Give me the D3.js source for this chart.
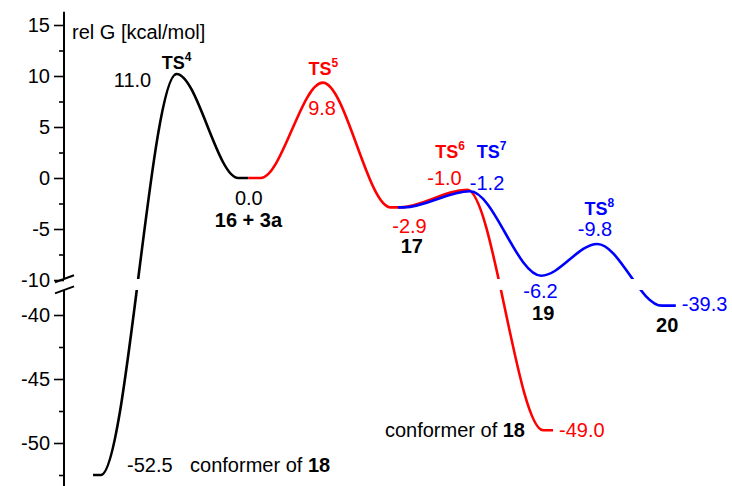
<!DOCTYPE html>
<html>
<head>
<meta charset="utf-8">
<script src="https://cdn.jsdelivr.net/npm/d3@7"></script>
<style>
  html, body { margin: 0; padding: 0; background: #fff; }
  svg { display: block; font-family: "Liberation Sans", Arial, Helvetica, sans-serif; }
</style>
</head>
<body>
<svg id="chart" width="732" height="486"></svg>
<script>
// ---- data (reaction coordinate, plotted relative G in kcal/mol) ----
const blackX = [4.4, 5.6, 17.05, 26.4, 27.9];
const blackG = [-52.5, -52.5, 10.2, 0, 0];
const redX = [27.9, 29.8, 39.2, 49.5, 50.9, 61.1, 72.6, 74.1];
const redG = [0, 0, 9.35, -2.88, -2.88, -1.15, -49.0, -49.0];
const blueX = [50.6, 51.5, 61.5, 72.3, 80.8, 90.6, 92.7];
const blueG = [-2.88, -2.88, -1.3, -9.58, -6.47, -39.27, -39.27];

const upperMajor = [-10, -5, 0, 5, 10, 15];
const upperMinor = [-7.5, -2.5, 2.5, 7.5, 12.5];
const lowerMajor = [-50, -45, -40];
const lowerMinor = [-52.5, -47.5, -42.5];

// annotation texts
const numLabels = [
  ["11.0", 10.38, 8.92, "black"],
  ["9.8", 39.1, 6.18, "red"],
  ["0.0", 28.0, -2.65, "black"],
  ["-2.9", 52.35, -5.39, "red"],
  ["-1.0", 57.65, -0.69, "red"],
  ["-1.2", 64.1, -1.18, "blue"],
  ["-6.2", 72.2, -38.67, "blue"],
  ["-9.8", 80.45, -5.66, "blue"]
];
const tsLabels = [
  ["4", 17.05, 10.69, "black"],
  ["5", 39.3, 10.1, "red"],
  ["6", 58.5, 1.96, "red"],
  ["7", 64.8, 1.96, "blue"],
  ["8", 81.1, -3.63, "blue"]
];
const speciesLabels = [
  ["16 + 3a", 27.95, -4.77],
  ["17", 52.7, -7.4],
  ["19", 72.6, -40.39],
  ["20", 91.4, -41.3]
];

const svg = d3.select("#chart");
const colors = { black: "#000000", red: "#ff0000", blue: "#0000ff" };

const x = d3.scaleLinear().domain([0, 100]).range([64, 724]);
// broken axis: lower part -60..-38, gap, upper part -10..20
const y = d3.scaleLinear()
  .domain([-60, -38, -10, 20])
  .range([315 + 20 * 12.8, 315 - 2 * 12.8, 280, 280 - 30 * 10.2]);

// ---- axis ----
const axisG = svg.append("g").attr("transform", "translate(64,0)");
function drawTicks(vals, size, labels) {
  const a = d3.axisLeft(y).tickValues(vals).tickSize(size).tickPadding(4)
    .tickFormat(labels ? (d => String(d)) : "");
  const g = axisG.append("g").call(a);
  g.select(".domain").remove();
  g.selectAll(".tick line").attr("stroke", "#000").attr("stroke-width", 1.6);
  g.selectAll(".tick text").attr("font-size", 20).attr("fill", "#000")
    .attr("font-family", '"Liberation Sans", Arial, sans-serif');
}
drawTicks(upperMajor, 10, true);
drawTicks(upperMinor, 5, false);
drawTicks(lowerMajor, 10, true);
drawTicks(lowerMinor, 5, false);

axisG.append("line").attr("x1", 0).attr("x2", 0)
  .attr("y1", y(16.3)).attr("y2", y(-9.8))
  .attr("stroke", "#000").attr("stroke-width", 2);
axisG.append("line").attr("x1", 0).attr("x2", 0)
  .attr("y1", y(-38.05)).attr("y2", 486)
  .attr("stroke", "#000").attr("stroke-width", 2);
// break marks
[y(-10) - 1.3, y(-38) + 0.5].forEach(cy => {
  axisG.append("line")
    .attr("x1", -9).attr("y1", cy + 3.5)
    .attr("x2", 10).attr("y2", cy - 3.5)
    .attr("stroke", "#000").attr("stroke-width", 2);
});

// ---- clip for the break in the curves ----
const defs = svg.append("defs");
const cp = defs.append("clipPath").attr("id", "brk");
cp.append("rect").attr("x", 0).attr("y", -50).attr("width", 732).attr("height", y(-10) - 1 + 50);
cp.append("rect").attr("x", 0).attr("y", y(-38) + 0.6).attr("width", 732).attr("height", 600);

const line = d3.line().x(d => x(d[0])).y(d => y(d[1])).curve(d3.curveMonotoneX);
const curves = svg.append("g").attr("clip-path", "url(#brk)");
[[blackX, blackG, "black"], [redX, redG, "red"], [blueX, blueG, "blue"]].forEach(([xs, gs, c]) => {
  curves.append("path")
    .datum(xs.map((v, i) => [v, gs[i]]))
    .attr("d", line)
    .attr("fill", "none")
    .attr("stroke", colors[c])
    .attr("stroke-width", 2.6)
    .attr("stroke-linecap", "butt");
});

// ---- texts ----
const txt = svg.append("g").attr("font-size", 20);

txt.append("text").attr("x", x(1.21)).attr("y", y(13.63)).attr("fill", "#000")
  .text("rel G [kcal/mol]");

numLabels.forEach(([t, xv, gv, c]) => {
  txt.append("text").attr("x", x(xv)).attr("y", y(gv))
    .attr("text-anchor", "middle").attr("fill", colors[c]).text(t);
});

tsLabels.forEach(([s, xv, gv, c]) => {
  const t = txt.append("text").attr("x", x(xv)).attr("y", y(gv))
    .attr("text-anchor", "middle").attr("fill", colors[c])
    .attr("font-weight", "bold").attr("font-size", 18);
  t.append("tspan").text("TS");
  t.append("tspan").attr("dy", -8).attr("font-size", 12).text(s);
});

speciesLabels.forEach(([t, xv, gv]) => {
  txt.append("text").attr("x", x(xv)).attr("y", y(gv))
    .attr("text-anchor", "middle").attr("fill", "#000")
    .attr("font-weight", "bold").text(t);
});

// end-point values and conformer labels
txt.append("text").attr("x", x(93.6)).attr("y", y(-39.66)).attr("fill", colors.blue).text("-39.3");
txt.append("text").attr("x", x(75.0)).attr("y", y(-49.5)).attr("fill", colors.red).text("-49.0");
txt.append("text").attr("x", x(9.55)).attr("y", y(-52.27)).attr("fill", "#000").text("-52.5");

function conformer(xv, gv, anchor) {
  const t = txt.append("text").attr("x", x(xv)).attr("y", y(gv))
    .attr("text-anchor", anchor).attr("fill", "#000");
  t.append("tspan").text("conformer of ");
  t.append("tspan").attr("font-weight", "bold").text("18");
}
conformer(69.85, -49.53, "end");
conformer(19.1, -52.27, "start");
</script>
</body>
</html>
